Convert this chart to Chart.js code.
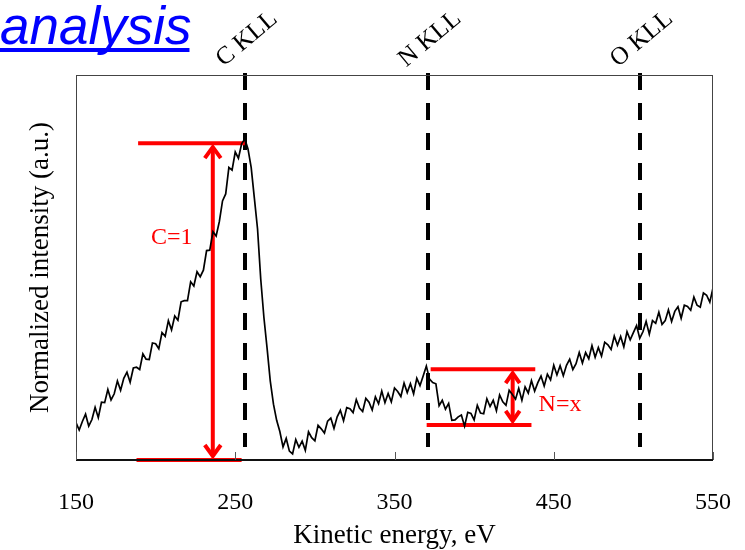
<!DOCTYPE html>
<html><head><meta charset="utf-8">
<script src="https://cdn.jsdelivr.net/npm/chart.js@4"></script>
<style>html,body{margin:0;padding:0;background:#fff}#wrap{width:745px;height:550px;position:relative}</style>
</head><body><div id="wrap"><canvas id="c" width="745" height="550"></canvas></div>
<script>
// Sampling grid of the spectrum (eV)
const energyStart = 150;
const energyStep = 2;
// Normalized intensity (every 2 eV, 150..550 eV)
const intensity = [
.097,.078,.100,.119,.088,.105,.137,.110,.150,.149,
.183,.156,.172,.205,.181,.212,.228,.202,.239,.241,
.235,.276,.262,.261,.304,.302,.289,.331,.321,.362,
.338,.374,.363,.411,.414,.414,.463,.452,.489,.476,
.493,.544,.545,.593,.582,.619,.673,.691,.760,.753,
.800,.784,.821,.834,.808,.760,.680,.600,.470,.370,
.290,.205,.145,.103,.074,.034,.056,.023,.016,.053,
.033,.049,.025,.073,.058,.050,.090,.081,.070,.101,
.109,.082,.112,.129,.102,.136,.133,.123,.157,.135,
.126,.160,.150,.130,.164,.146,.179,.149,.173,.151,
.187,.178,.165,.200,.175,.198,.172,.212,.193,.218,
.244,.210,.201,.198,.141,.155,.132,.147,.103,.104,
.112,.117,.088,.124,.121,.104,.142,.122,.120,.159,
.139,.155,.128,.169,.151,.142,.181,.170,.158,.186,
.155,.190,.174,.206,.179,.201,.218,.192,.223,.208,
.246,.221,.245,.219,.246,.262,.235,.250,.279,.252,
.279,.263,.297,.267,.292,.270,.306,.299,.287,.322,
.298,.321,.294,.333,.312,.331,.349,.316,.333,.360,
.327,.362,.355,.384,.352,.362,.390,.360,.386,.398,
.368,.402,.399,.389,.423,.402,.397,.434,.428,.410,
.447
];
const xTicks = [150, 250, 350, 450, 550];
// Auger peak markers
const peakNames = ['C KLL', 'N KLL', 'O KLL'];
const peakEnergies = [256, 371, 504];
// Red annotation geometry in data units: [xStart, xEnd, y]
const cTopLine = [189, 256, 0.823];
const cBottomLine = [188, 254, 0];
const cArrow = [235.9, 0.823, 0];     // [x, yTop, yBottom]
const cLabel = ['C=1', 210.3, 0.577];
const nTopLine = [372.7, 438.4, 0.236];
const nBottomLine = [370.2, 436, 0.091];
const nArrow = [424.2, 0.236, 0.091];
const nLabel = ['N=x', 440.5, 0.143];

const SERIF = '"Liberation Serif", "Times New Roman", serif';
const points = intensity.map((v, i) => ({x: energyStart + i * energyStep, y: v}));

const overlay = {
  id: 'overlay',
  beforeDatasetsDraw(chart) {
    const {ctx, chartArea: a, scales: {x, y}} = chart;
    ctx.save();
    // dashed peak lines
    ctx.strokeStyle = '#000';
    ctx.lineWidth = 4;
    ctx.setLineDash([17, 13]);
    peakEnergies.forEach(e => {
      const px = Math.round(x.getPixelForValue(e));
      ctx.beginPath();
      ctx.moveTo(px, a.top - 2);
      ctx.lineTo(px, y.getPixelForValue(0.034));
      ctx.stroke();
    });
    ctx.setLineDash([]);
    // red annotations
    ctx.strokeStyle = '#ff0000';
    ctx.fillStyle = '#ff0000';
    ctx.lineWidth = 4;
    const hline = (l) => {
      ctx.beginPath();
      ctx.moveTo(x.getPixelForValue(l[0]), y.getPixelForValue(l[2]));
      ctx.lineTo(x.getPixelForValue(l[1]), y.getPixelForValue(l[2]));
      ctx.stroke();
    };
    const arrow = (ar, hw, hl) => {
      const px = x.getPixelForValue(ar[0]);
      const t = y.getPixelForValue(ar[1]) + 4;
      const b = y.getPixelForValue(ar[2]) - 4;
      ctx.beginPath();
      ctx.moveTo(px, t + 1); ctx.lineTo(px, b - 1); ctx.stroke();
      ctx.lineJoin = 'miter';
      ctx.beginPath();
      ctx.moveTo(px - hw, t + hl); ctx.lineTo(px, t); ctx.lineTo(px + hw, t + hl); ctx.stroke();
      ctx.beginPath();
      ctx.moveTo(px - hw, b - hl); ctx.lineTo(px, b); ctx.lineTo(px + hw, b - hl); ctx.stroke();
    };
    hline(cTopLine); hline(cBottomLine); hline(nTopLine); hline(nBottomLine);
    arrow(cArrow, 8, 11);
    arrow(nArrow, 7, 10);
    ctx.font = '24px ' + SERIF;
    ctx.textBaseline = 'middle';
    ctx.textAlign = 'left';
    ctx.fillText(cLabel[0], x.getPixelForValue(cLabel[1]) - 21, y.getPixelForValue(cLabel[2]));
    ctx.fillText(nLabel[0], x.getPixelForValue(nLabel[1]), y.getPixelForValue(nLabel[2]));
    ctx.restore();
  },
  afterDatasetsDraw(chart) {
    const {ctx, chartArea: a, scales: {x, y}} = chart;
    ctx.save();
    // frame
    ctx.strokeStyle = '#444';
    ctx.lineWidth = 1;
    ctx.strokeRect(Math.round(a.left) + 0.5, Math.round(a.top) + 0.5, Math.round(a.right - a.left) - 1, Math.round(a.bottom - a.top) - 1);
    ctx.strokeStyle = '#111';
    ctx.lineWidth = 2;
    ctx.beginPath();
    ctx.moveTo(a.left, Math.round(a.bottom)); ctx.lineTo(a.right, Math.round(a.bottom)); ctx.stroke();
    // inward tick marks
    ctx.strokeStyle = '#555';
    ctx.lineWidth = 1;
    xTicks.forEach(v => {
      const px = Math.round(x.getPixelForValue(v)) + 0.5;
      ctx.beginPath(); ctx.moveTo(px, a.bottom); ctx.lineTo(px, a.bottom - 8); ctx.stroke();
    });
    // rotated peak labels
    ctx.fillStyle = '#000';
    ctx.font = '25px ' + SERIF;
    ctx.textAlign = 'center';
    ctx.textBaseline = 'middle';
    peakNames.forEach((n, i) => {
      ctx.save();
      ctx.translate(x.getPixelForValue(peakEnergies[i]) + 2, 39);
      ctx.rotate(-40 * Math.PI / 180);
      ctx.fillText(n, 0, 0);
      ctx.restore();
    });
    // slide heading fragment
    ctx.fillStyle = '#0000ff';
    ctx.font = 'italic 53px "Liberation Sans", Arial, sans-serif';
    ctx.textAlign = 'left';
    ctx.textBaseline = 'alphabetic';
    ctx.fillText('analysis', 0, 44);
    const w = ctx.measureText('analysis').width;
    ctx.fillRect(0, 48, w - 2, 4);
    ctx.restore();
  }
};

new Chart(document.getElementById('c'), {
  type: 'line',
  data: {
    datasets: [{
      data: points,
      borderColor: '#000',
      borderWidth: 1.7,
      pointRadius: 0,
      tension: 0,
      fill: false
    }]
  },
  options: {
    responsive: false,
    animation: false,
    devicePixelRatio: 1,
    layout: {padding: {top: 75, right: 32, left: 0, bottom: 0}},
    plugins: {legend: {display: false}, tooltip: {enabled: false}},
    scales: {
      x: {
        type: 'linear',
        min: 150, max: 550,
        afterBuildTicks: s => { s.ticks = xTicks.map(v => ({value: v})); },
        afterFit: s => { s.height = 90; s.paddingLeft = 0; s.paddingRight = 0; },
        grid: {display: false, drawTicks: false},
        border: {display: false},
        ticks: {color: '#000', padding: 31, maxRotation: 0, font: {family: SERIF, size: 24, lineHeight: 1}},
        title: {display: true, text: 'Kinetic energy, eV', color: '#000', padding: {top: 0, bottom: 1}, font: {family: SERIF, size: 27, lineHeight: 1}}
      },
      y: {
        min: 0, max: 1,
        afterFit: s => { s.width = 76; s.paddingTop = 0; s.paddingBottom = 0; },
        grid: {display: false, drawTicks: false},
        border: {display: false},
        ticks: {display: false},
        title: {display: true, text: 'Normalized intensity (a.u.)', color: '#000', padding: {top: 27, bottom: 0}, font: {family: SERIF, size: 27, lineHeight: 1}}
      }
    }
  },
  plugins: [overlay]
});
</script>
</body></html>
